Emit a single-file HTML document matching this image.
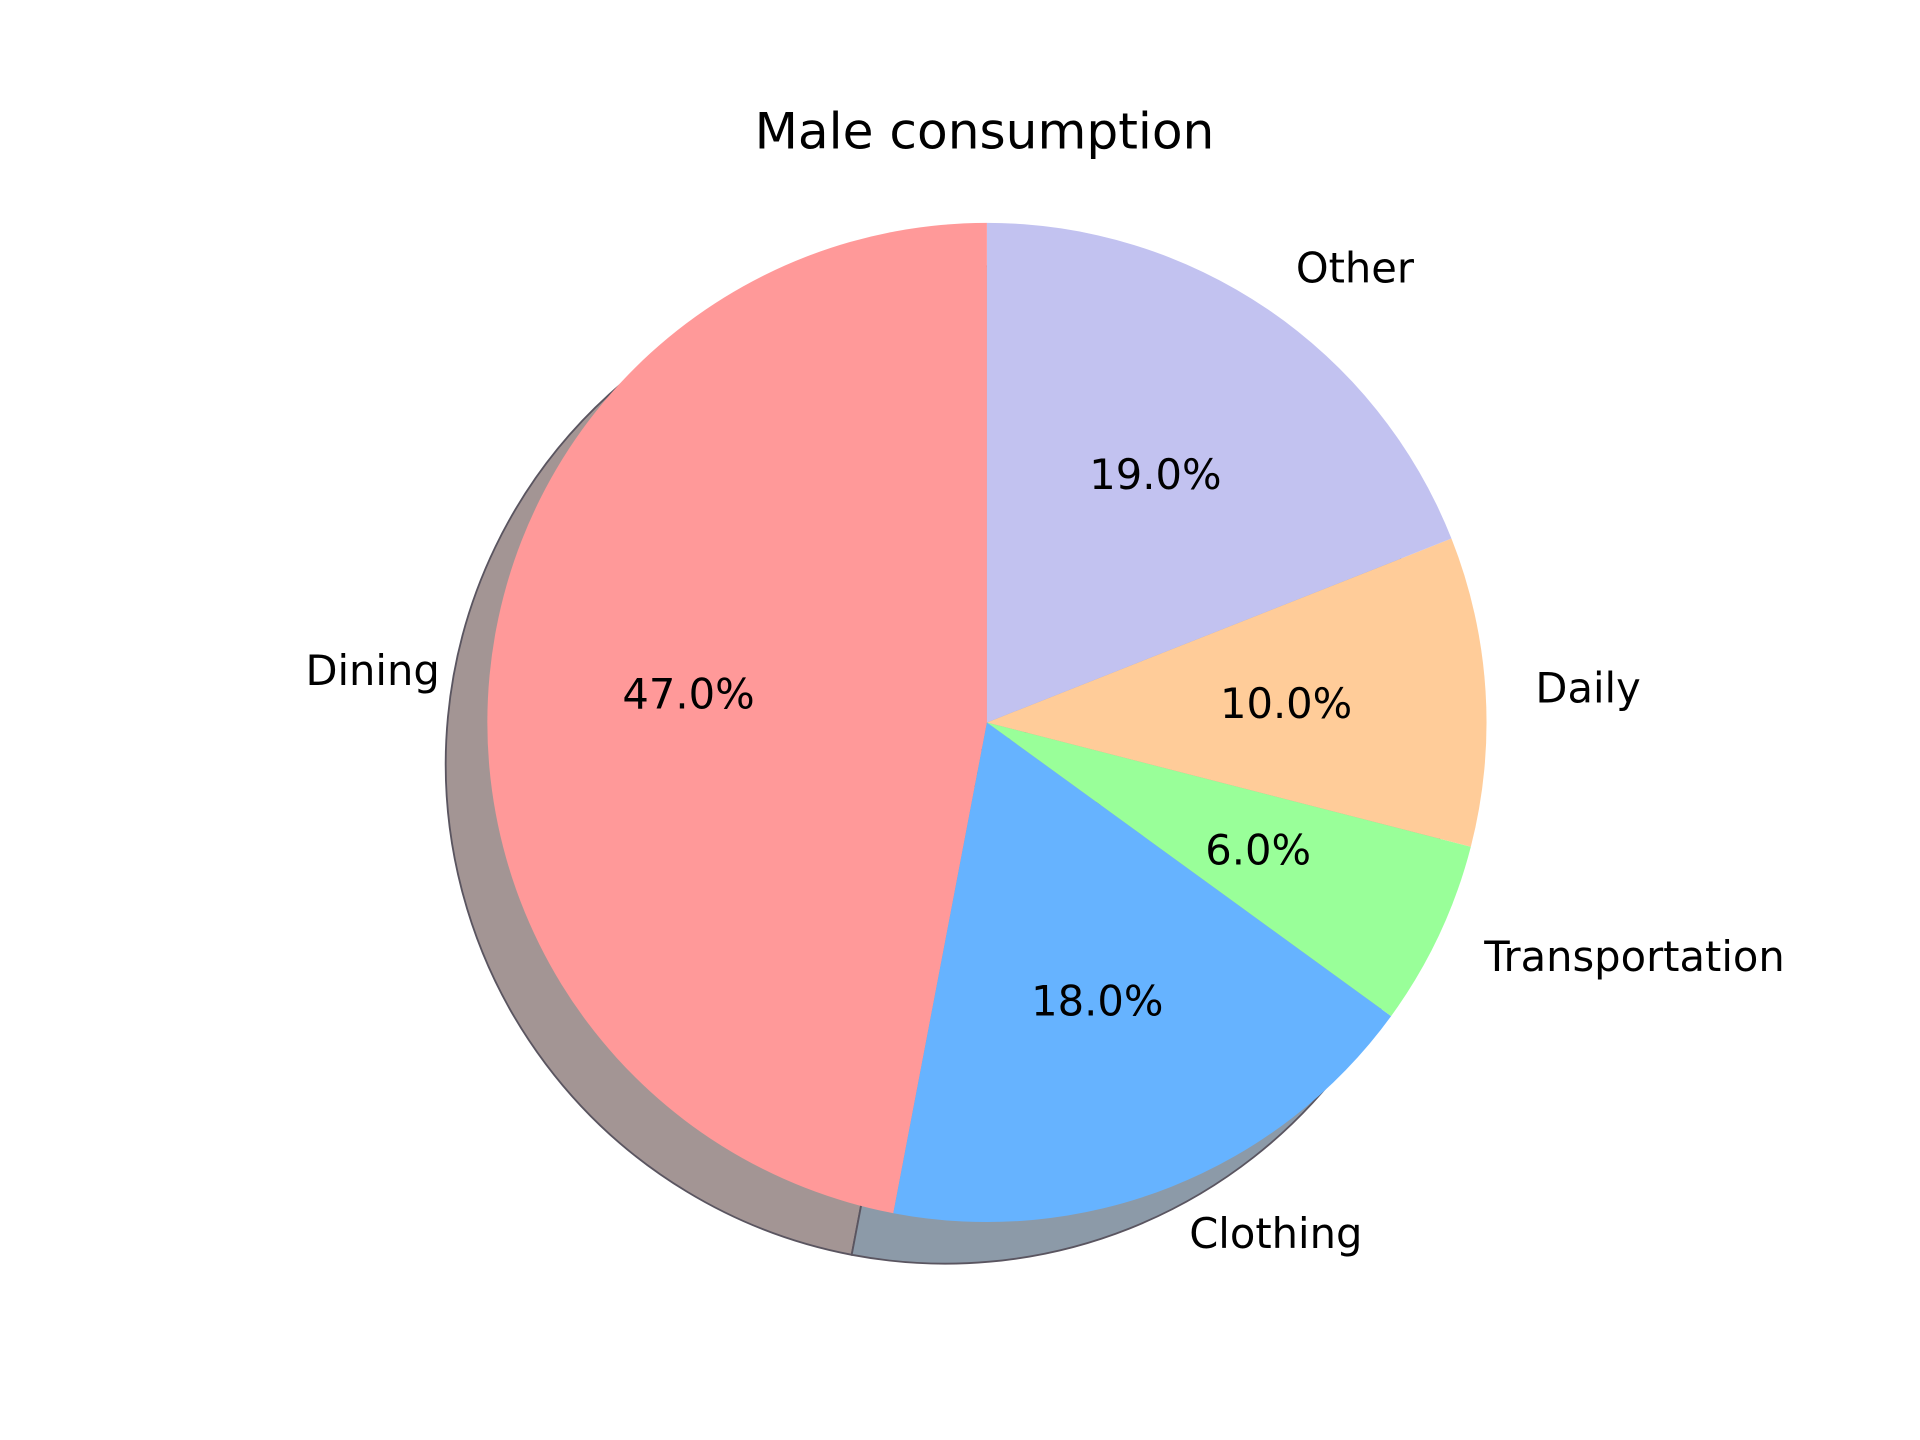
<!DOCTYPE html>
<html><head><meta charset="utf-8"><style>html,body{margin:0;padding:0;background:#fff}svg{display:block}</style></head>
<body>
<svg id="chart" width="1920" height="1440" viewBox="0 0 1568 1176" xmlns="http://www.w3.org/2000/svg" font-family="'DejaVu Sans','Liberation Sans',sans-serif">
<rect width="1568" height="1176" fill="#fff"/>
<text x="804" y="107" font-size="41" text-anchor="middle" dominant-baseline="central">Male consumption</text>
<g id="shadows"></g>
<g id="wedges"></g>
<g id="labels"></g>
</svg>
<script>
const categories = ["Dining","Clothing","Transportation","Daily","Other"];
const values = [47,18,6,10,19];
const colors = ["#ff9999","#66b3ff","#99ff99","#ffcc99","#c2c2f0"];
const shadowColors = ["#a39594","#8c9aa8","#8ca08c","#a89d8c","#9a9aa8"];
const cx=806, cy=590, R=408, sdx=-34, sdy=34, startAngle=90;
const NS="http://www.w3.org/2000/svg";
const total=values.reduce((a,b)=>a+b,0);
function pt(x0,y0,r,deg){const a=deg*Math.PI/180;return [x0+r*Math.cos(a), y0-r*Math.sin(a)];}
function wedgePath(x0,y0,a0,a1){
  const p0=pt(x0,y0,R,a0), p1=pt(x0,y0,R,a1);
  const large=(a1-a0)>180?1:0;
  return `M${x0},${y0} L${p0[0]},${p0[1]} A${R},${R} 0 ${large} 0 ${p1[0]},${p1[1]} Z`;
}
const sg=document.getElementById('shadows'), wg=document.getElementById('wedges'), lg=document.getElementById('labels');
let a=startAngle;
values.forEach((v,i)=>{
  const span=v/total*360, a0=a, a1=a+span, mid=(a0+a1)/2;
  const sp=document.createElementNS(NS,'path');
  sp.setAttribute('d',wedgePath(cx+sdx,cy+sdy,a0,a1));
  sp.setAttribute('fill',shadowColors[i]);
  sp.setAttribute('stroke','#5a5560');sp.setAttribute('stroke-width','1.5');
  
  
  sg.appendChild(sp);
  const p=document.createElementNS(NS,'path');
  p.setAttribute('d',wedgePath(cx,cy,a0,a1));
  p.setAttribute('fill',colors[i]);
  
  
  wg.appendChild(p);
  const lp=pt(cx,cy,R*1.1,mid);
  const t=document.createElementNS(NS,'text');
  t.setAttribute('x',lp[0]);t.setAttribute('y',lp[1]);
  t.setAttribute('font-size','34');t.setAttribute('dominant-baseline','central');
  t.setAttribute('text-anchor',lp[0]<cx?'end':'start');
  t.textContent=categories[i];
  
  
  lg.appendChild(t);
  const pp=pt(cx,cy,R*0.6,mid);
  const q=document.createElementNS(NS,'text');
  q.setAttribute('x',pp[0]);q.setAttribute('y',pp[1]);
  q.setAttribute('font-size','34');q.setAttribute('dominant-baseline','central');
  q.setAttribute('text-anchor','middle');
  q.textContent=(v/total*100).toFixed(1)+'%';
  
  
  lg.appendChild(q);
  a=a1;
});
</script>
</body></html>
